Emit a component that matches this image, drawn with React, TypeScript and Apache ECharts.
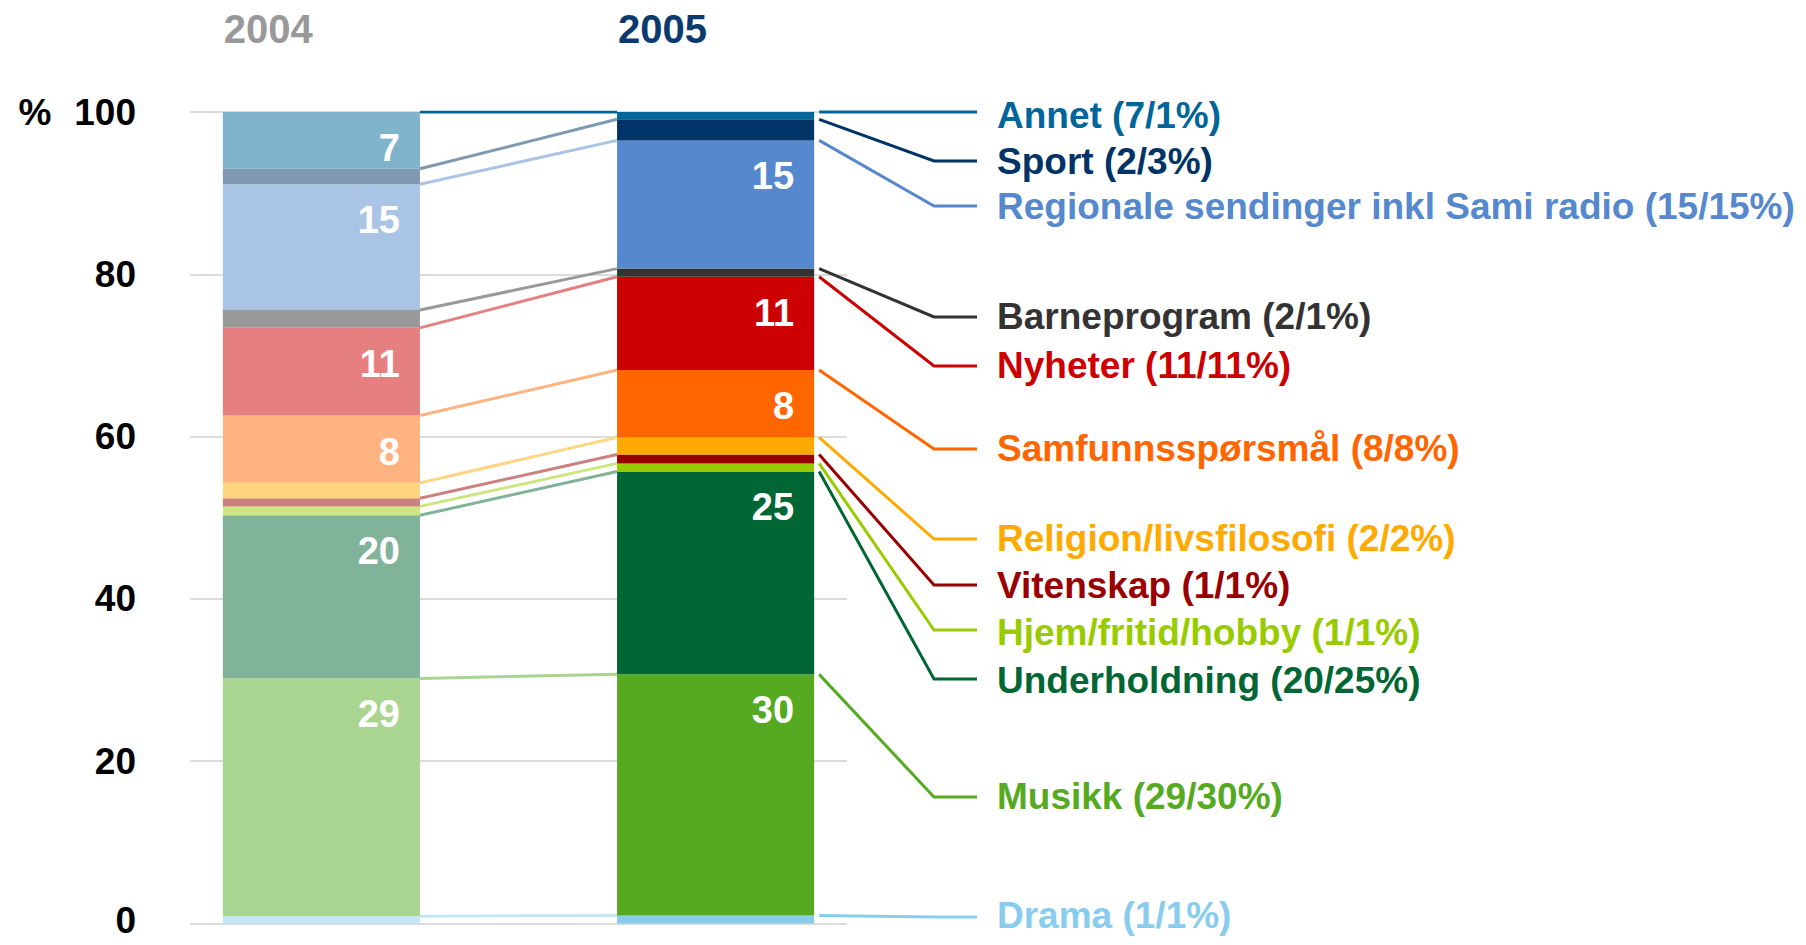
import React, { useEffect, useRef } from 'react';
import * as echarts from 'echarts';

// ---------- data (top segment first) ----------
const categories = [
  'Annet',
  'Sport',
  'Regionale sendinger inkl Sami radio',
  'Barneprogram',
  'Nyheter',
  'Samfunnsspørsmål',
  'Religion/livsfilosofi',
  'Vitenskap',
  'Hjem/fritid/hobby',
  'Underholdning',
  'Musikk',
  'Drama',
];
const years = ['2004', '2005'];
// segment heights (% of total)
const share2004 = [7.0, 1.9, 15.5, 2.2, 10.8, 8.3, 1.9, 1.0, 1.1, 20.1, 29.3, 0.9];
const share2005 = [0.9, 2.6, 15.8, 1.0, 11.5, 8.3, 2.1, 1.1, 1.0, 25.0, 29.7, 1.0];
// printed (rounded) percentages
const printed2004 = [7, 2, 15, 2, 11, 8, 2, 1, 1, 20, 29, 1];
const printed2005 = [1, 3, 15, 1, 11, 8, 2, 1, 1, 25, 30, 1];
const yTicks = [0, 20, 40, 60, 80, 100];

// ---------- styles ----------
const colors2005 = ['#006699', '#003366', '#5588cc', '#333333', '#cc0000', '#ff6600', '#ffaa00', '#990000', '#99cc00', '#006633', '#55aa22', '#88ccee'];
const colors2004 = ['#80b3cc', '#8099b3', '#aac4e6', '#999999', '#e68080', '#ffb380', '#ffd580', '#cc8080', '#cce680', '#80b399', '#aad591', '#c4e6f7'];
const yearColors = ['#999999', '#0b3a6e'];
const FONT = '"Liberation Sans", Arial, Helvetica, sans-serif';

// ---------- layout ----------
const W = 1806;
const H = 945;
const GRID = { left: 190, right: 959, top: 112, bottom: 16 };
const X_MIN = -1 / 3;
const X_MAX = 4 / 3;
const BAR_HALF = 0.25; // half bar width in x units
const labelY = [112, 161, 206, 317, 366, 449, 539, 585, 630, 679, 797, 917];
const labelTextDy = [3, 0, 0, -1, -1, -1, -1, 0, 2, 1, -1, -2];
const ELBOW_X = 934;
const LEADER_END_X = 977;
const LABEL_X = 997;
const VALUE_LABEL_DX = 20;
const VALUE_LABEL_DY = 36;

function tops(shares: number[]): number[] {
  return shares.map((_, i) => shares.slice(i).reduce((a, b) => a + b, 0));
}

export default function App() {
  const ref = useRef<HTMLDivElement>(null);
  useEffect(() => {
    const chart = echarts.init(ref.current!, null, { renderer: 'svg' });
    const top04 = tops(share2004);
    const top05 = tops(share2005);
    const n = categories.length;
    const shares = [share2004, share2005];
    const printed = [printed2004, printed2005];
    const topsBy = [top04, top05];
    const colorsBy = [colors2004, colors2005];

    // segments: [x, base, top, categoryIndex, yearIndex]
    const segments: number[][] = [];
    for (let k = 0; k < 2; k++) {
      for (let i = n - 1; i >= 0; i--) {
        const t = topsBy[k][i];
        segments.push([k, t - shares[k][i], t, i, k]);
      }
    }

    const barSeries = {
      type: 'custom',
      name: 'shares',
      silent: true,
      z: 2,
      data: segments,
      encode: { x: 0, y: [1, 2] },
      renderItem: (_params: any, api: any) => {
        const x = api.value(0);
        const base = api.value(1);
        const top = api.value(2);
        const i = api.value(3);
        const k = api.value(4);
        const p0 = api.coord([x - BAR_HALF, top]);
        const p1 = api.coord([x + BAR_HALF, base]);
        const children: any[] = [
          {
            type: 'rect',
            shape: { x: p0[0], y: p0[1], width: p1[0] - p0[0], height: p1[1] - p0[1] },
            style: { fill: colorsBy[k][i] },
          },
        ];
        const val = printed[k][i];
        if (val >= 5) {
          children.push({
            type: 'text',
            x: p1[0] - VALUE_LABEL_DX,
            y: p0[1] + VALUE_LABEL_DY,
            style: {
              text: String(val),
              fill: '#ffffff',
              font: 'bold 38px ' + FONT,
              textAlign: 'right',
              textVerticalAlign: 'middle',
            },
          });
        }
        return { type: 'group', children };
      },
    };

    const lineSeries: any[] = categories.map((c, i) => ({
      type: 'line',
      name: c + ' link',
      data: [
        [BAR_HALF, top04[i]],
        [1 - BAR_HALF, top05[i]],
      ],
      symbol: 'none',
      z: 3,
      silent: true,
      lineStyle: { color: i === 0 ? colors2005[i] : colors2004[i], width: 3 },
    }));

    const tickFont = { fontFamily: FONT, fontWeight: 'bold', fontSize: 37, lineHeight: 30, color: '#000' };

    chart.setOption({
      animation: false,
      grid: { left: GRID.left, right: GRID.right, top: GRID.top, bottom: GRID.bottom, containLabel: false },
      xAxis: { type: 'value', min: X_MIN, max: X_MAX, show: false },
      yAxis: {
        type: 'value',
        min: yTicks[0],
        max: yTicks[yTicks.length - 1],
        interval: yTicks[1] - yTicks[0],
        axisLine: { show: false },
        axisTick: { show: false },
        splitLine: { lineStyle: { color: '#dcdcdc', width: 2 } },
        axisLabel: {
          margin: 54,
          formatter: (v: number) =>
            v === yTicks[yTicks.length - 1] ? '{p|%}{n|' + v + '}' : v === yTicks[0] ? '{z|' + v + '}' : '{n|' + v + '}',
          rich: {
            p: { ...tickFont, padding: [0, 23, 0, 0] },
            n: { ...tickFont },
            z: { ...tickFont, padding: [0, 0, 6, 0] },
          },
        },
      },
      series: [barSeries, ...lineSeries],
    });

    const px = (x: number, y: number) => chart.convertToPixel({ gridIndex: 0 }, [x, y]) as number[];

    const elements: any[] = [];
    years.forEach((yr, k) => {
      const left = px(k - BAR_HALF, 100)[0];
      elements.push({
        type: 'text',
        x: left + 1,
        y: 29,
        style: {
          text: yr,
          fill: yearColors[k],
          font: 'bold 40px ' + FONT,
          textAlign: 'left',
          textVerticalAlign: 'middle',
        },
      });
    });

    categories.forEach((c, i) => {
      const start = px(1 + BAR_HALF, top05[i]);
      elements.push({
        type: 'polyline',
        shape: {
          points: [
            [start[0] + 5, start[1]],
            [ELBOW_X, labelY[i]],
            [LEADER_END_X, labelY[i]],
          ],
        },
        style: { stroke: colors2005[i], lineWidth: 3, fill: 'none' },
        silent: true,
      });
      elements.push({
        type: 'text',
        x: LABEL_X,
        y: labelY[i] + labelTextDy[i],
        style: {
          text: c + ' (' + printed2004[i] + '/' + printed2005[i] + '%)',
          fill: colors2005[i],
          font: 'bold 37px ' + FONT,
          textAlign: 'left',
          textVerticalAlign: 'middle',
        },
      });
    });

    chart.setOption({ graphic: { elements } });
    return () => chart.dispose();
  }, []);

  return <div ref={ref} style={{ position: 'absolute', left: 0, top: 0, width: W, height: H }} />;
}
